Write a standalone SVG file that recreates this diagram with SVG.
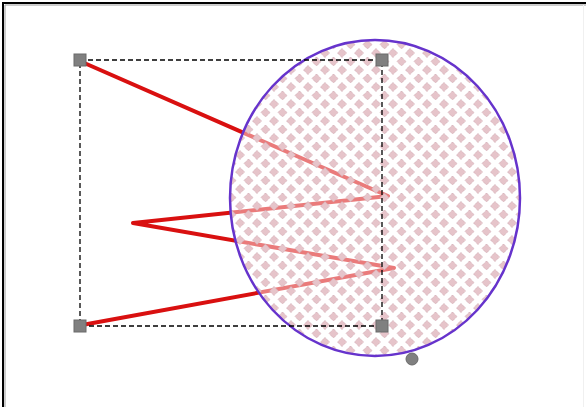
<svg xmlns="http://www.w3.org/2000/svg" width="586" height="407" viewBox="0 0 586 407">
  <defs>
    <pattern id="diam" width="17" height="17" patternUnits="userSpaceOnUse" x="2" y="2">
      <g fill="#e6c4ca" stroke="#c9a2aa" stroke-width="0.9" stroke-dasharray="1,1">
        <polygon points="8.5,4 13,8.5 8.5,13 4,8.5"/>
        <polygon points="0,-4.5 4.5,0 0,4.5 -4.5,0"/>
        <polygon points="17,-4.5 21.5,0 17,4.5 12.5,0"/>
        <polygon points="0,12.5 4.5,17 0,21.5 -4.5,17"/>
        <polygon points="17,12.5 21.5,17 17,21.5 12.5,17"/>
      </g>
    </pattern>
    <style>
      .handle { fill: #808080; stroke: #6a6a6a; stroke-width: 1; }
    </style>
  </defs>
  <rect x="0" y="0" width="586" height="407" fill="#ffffff"/>
  <!-- frame -->
  <path d="M3,407 V3 H586" fill="none" stroke="#000000" stroke-width="2"/>
  <path d="M5,407 V5 H586" fill="none" stroke="#9a9a9a" stroke-width="1"/>
  <line x1="583.5" y1="5" x2="583.5" y2="407" stroke="#f0f0f0" stroke-width="1"/>

  <g id="connectors">
    <polyline points="82,62 388,196 133,223 394,268 82,325" fill="none" stroke="#d91010" stroke-width="4" stroke-linejoin="round"/>
  </g>

  <g id="ellipse">
    <ellipse cx="375" cy="198" rx="145" ry="158" fill="#ffffff" fill-opacity="0.45"/>
    <ellipse cx="375" cy="198" rx="145" ry="158" fill="url(#diam)" stroke="#6633cc" stroke-width="2.5"/>
  </g>

  <g id="selection">
    <rect x="80" y="60" width="302" height="266" fill="none" stroke="#000000" stroke-width="1.3" stroke-dasharray="5,3"/>
    <rect class="handle" x="74" y="54" width="12" height="12"/>
    <rect class="handle" x="376" y="54" width="12" height="12"/>
    <rect class="handle" x="74" y="320" width="12" height="12"/>
    <rect class="handle" x="376" y="320" width="12" height="12"/>
    <circle class="handle" cx="412" cy="359" r="6"/>
  </g>
</svg>
